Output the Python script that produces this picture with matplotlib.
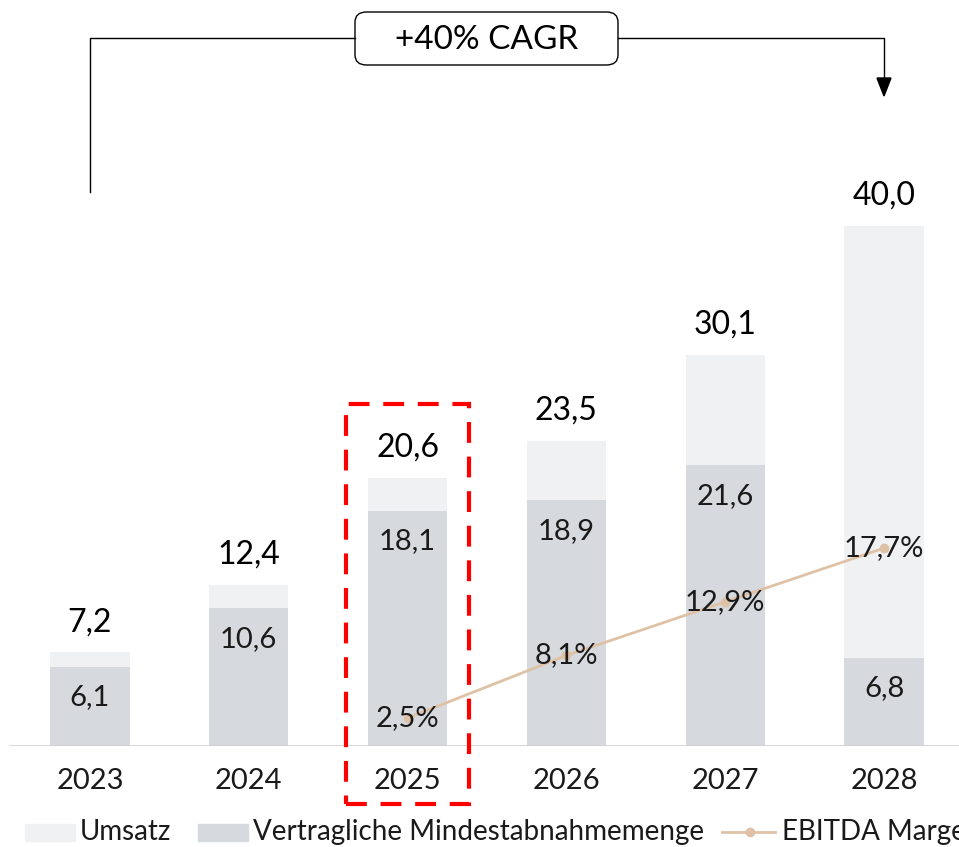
import numpy as np
import matplotlib
matplotlib.use("Agg")
import matplotlib.pyplot as plt
from matplotlib.patches import Rectangle, FancyBboxPatch
from matplotlib.lines import Line2D

plt.rcParams['font.family'] = ['Lato', 'DejaVu Sans']

# --- data ---
years = ['2023', '2024', '2025', '2026', '2027', '2028']
umsatz = [7.2, 12.4, 20.6, 23.5, 30.1, 40.0]
mindest = [6.1, 10.6, 18.1, 18.9, 21.6, 6.8]
ebitda_years = ['2025', '2026', '2027', '2028']
ebitda_marge = [2.5, 8.1, 12.9, 17.7]
cagr_label = '+40% CAGR'
highlight_year = '2025'

C_UMSATZ = '#f0f1f3'
C_MINDEST = '#d6d9dd'
C_LINE = '#dfc2a6'
C_TEXT = '#000000'
C_TEXT2 = '#1a1a1a'
FS = 21
FS_TOT = 23

W, H = 959, 847
fig = plt.figure(figsize=(W / 100, H / 100), dpi=100)
base_y = 746
ax = fig.add_axes([0, (H - base_y) / H, 1, base_y / H])
px_per_unit = 13.0
ax.set_ylim(0, base_y / px_per_unit)
ax.set_xlim(-90 / 159, 5 + 75 / 159)

x = np.arange(len(years))
ax.bar(x, umsatz, width=0.5, color=C_UMSATZ, zorder=1)
ax.bar(x, mindest, width=0.5, color=C_MINDEST, zorder=2)

for xi, tot, m in zip(x, umsatz, mindest):
    ax.annotate(f'{tot:.1f}'.replace('.', ','), (xi, tot), xytext=(0, 11),
                textcoords='offset points', ha='center', va='bottom',
                fontsize=FS_TOT, color=C_TEXT)
    ax.annotate(f'{m:.1f}'.replace('.', ','), (xi, m), xytext=(0, -22),
                textcoords='offset points', ha='center', va='center',
                fontsize=FS, color=C_TEXT2, zorder=5)

# baseline
ax.axhline(0, xmin=10 / W, color='#d0d0d0', lw=1.2, zorder=3)

ax.set_xticks(x)
ax.set_xticklabels(years, fontsize=FS, color=C_TEXT2)
ax.tick_params(axis='x', length=0, pad=16)
ax.set_yticks([])
for s in ax.spines.values():
    s.set_visible(False)

# secondary axis for EBITDA margin
ax2 = ax.twinx()
ax2.set_ylim(0, base_y / 11.18)
ax2.set_axis_off()
ex = [years.index(y) for y in ebitda_years]
ax2.plot(ex, ebitda_marge, color=C_LINE, lw=2, marker='o', markersize=6, zorder=4)
for xi, v in zip(ex, ebitda_marge):
    ax2.text(xi, v, f'{v:.1f}%'.replace('.', ','), ha='center', va='center',
             fontsize=FS, color=C_TEXT2, zorder=6)

# highlight box around 2025
hi = years.index(highlight_year)
ax.add_patch(Rectangle((hi - 0.385, -4.46), 0.77, 30.76, fill=False,
                       edgecolor='#ff0000', lw=3, ls=(0, (5, 3.3)),
                       clip_on=False, zorder=7))

# CAGR bracket (figure pixel coordinates)
def fx(px):
    return px / W

def fy(py):
    return 1 - py / H

fig.add_artist(Line2D([fx(90), fx(90), fx(355)], [fy(192), fy(38), fy(38)],
                      color='black', lw=1))
fig.add_artist(Line2D([fx(618), fx(884), fx(884)], [fy(38), fy(38), fy(80)],
                      color='black', lw=1))
fig.add_artist(plt.Polygon([[fx(877), fy(78)], [fx(891), fy(78)], [fx(884), fy(96)]],
                           closed=True, color='black'))
fig.add_artist(FancyBboxPatch((fx(355), fy(65)), fx(618) - fx(355), fy(12) - fy(65),
                              boxstyle='round,pad=0,rounding_size=0.012',
                              transform=fig.transFigure, facecolor='white',
                              edgecolor='black', lw=1))
fig.text(fx(487), fy(40), cagr_label, ha='center', va='center', fontsize=24,
         color=C_TEXT)

# legend
ly = 832
fig.add_artist(Rectangle((fx(25), fy(841)), fx(50), 17 / H, color=C_UMSATZ))
fig.text(fx(80), fy(ly), 'Umsatz', ha='left', va='center', fontsize=20,
         color=C_TEXT2)
fig.add_artist(Rectangle((fx(198), fy(841)), fx(50), 17 / H, color=C_MINDEST))
fig.text(fx(253), fy(ly), 'Vertragliche Mindestabnahmemenge', ha='left', va='center',
         fontsize=20, color=C_TEXT2)
fig.add_artist(Line2D([fx(722), fx(750), fx(775)], [fy(ly), fy(ly), fy(ly)],
                      color=C_LINE, lw=2, marker='o', markersize=6, markevery=[1]))
fig.text(fx(782), fy(ly), 'EBITDA Marge', ha='left', va='center', fontsize=20,
         color=C_TEXT2)

fig.savefig('out.png', dpi=100)
